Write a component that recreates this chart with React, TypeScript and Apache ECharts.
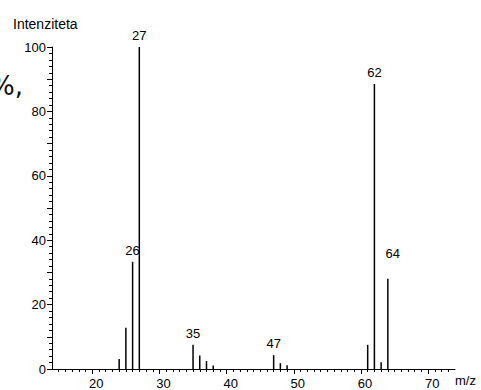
import React, { useEffect, useRef } from "react";
import * as echarts from "echarts";

// m/z values of the peaks and their relative intensities (%)
const mz = [24, 25, 26, 27, 35, 36, 37, 38, 47, 48, 49, 61, 62, 63, 64];
const intensity = [3.1, 12.8, 33.3, 100, 7.5, 4.2, 2.5, 1.1, 4.3, 1.8, 1.2, 7.5, 88.5, 2.1, 28.0];
const labeledPeaks = [26, 27, 35, 47, 62, 64];
const xTickLabels = [20, 30, 40, 50, 60, 70];
const yTickLabels = [0, 20, 40, 60, 80, 100];

const FONT = "'Liberation Sans', Arial, sans-serif";

function range(a: number, b: number, step: number) {
  const r: number[] = [];
  for (let v = a; v <= b; v += step) r.push(v);
  return r;
}

export default function App() {
  const ref = useRef<HTMLDivElement>(null);
  useEffect(() => {
    if (!ref.current) return;
    const chart = echarts.init(ref.current, undefined, { renderer: "svg" });
    const xMin = 14, xMax = 74;
    const data = mz.map((x, i) => {
      const item: any = { value: [x, intensity[i]] };
      if (labeledPeaks.includes(x)) {
        item.label = { show: true };
        if (x === 64) item.label.offset = [5, -14];
      }
      return item;
    });
    chart.setOption({
      animation: false,
      grid: { left: 52, right: 26, top: 47, bottom: 21 },
      xAxis: [
        {
          type: "value", min: xMin, max: xMax, position: "bottom",
          axisLine: { show: true, lineStyle: { color: "#000", width: 1 } },
          axisTick: { show: true, length: 3, customValues: range(15, 73, 1), lineStyle: { color: "#000" } },
          axisLabel: {
            customValues: xTickLabels, color: "#000", fontSize: 13, fontFamily: FONT, margin: 8,
            padding: [0, 0, 0, 8],
          },
          splitLine: { show: false },
        },
        {
          type: "value", min: xMin, max: xMax, position: "bottom", offset: 0,
          axisLine: { show: false },
          axisTick: { show: true, length: 5, customValues: xTickLabels, lineStyle: { color: "#000" } },
          axisLabel: { show: false },
          splitLine: { show: false },
        },
      ],
      yAxis: [
        {
          type: "value", min: 0, max: 100, position: "left",
          axisLine: { show: true, lineStyle: { color: "#000", width: 1 } },
          axisTick: { show: true, length: 3, customValues: range(0, 100, 2), lineStyle: { color: "#000" } },
          axisLabel: { customValues: yTickLabels, color: "#000", fontSize: 13, fontFamily: FONT, margin: 6 },
          splitLine: { show: false },
        },
        {
          type: "value", min: 0, max: 100, position: "left", offset: 0,
          axisLine: { show: false },
          axisTick: { show: true, length: 5, customValues: range(0, 100, 10), lineStyle: { color: "#000" } },
          axisLabel: { show: false },
          splitLine: { show: false },
        },
      ],
      series: [
        {
          type: "bar",
          xAxisIndex: 0,
          yAxisIndex: 0,
          barWidth: 1.5,
          itemStyle: { color: "#000" },
          label: {
            show: false,
            position: "top",
            distance: 5,
            color: "#000",
            fontSize: 13,
            fontFamily: FONT,
            formatter: (p: any) => String(p.value[0]),
          },
          data,
        },
      ],
      graphic: [
        {
          type: "text", left: 13, top: 17,
          style: { text: "Intenziteta", fill: "#000", font: `14px ${FONT}` },
        },
        {
          type: "text", left: 455, top: 374,
          style: { text: "m/z", fill: "#000", font: `13px ${FONT}` },
        },
        {
          type: "text", left: -10, top: 73,
          style: { text: "%,", fill: "#111", font: `26px 'DejaVu Sans', sans-serif` },
        },
      ],
    });
    return () => chart.dispose();
  }, []);
  return (
    <div
      ref={ref}
      style={{ position: "absolute", left: 0, top: 0, width: 481, height: 390, background: "#fff" }}
    />
  );
}
